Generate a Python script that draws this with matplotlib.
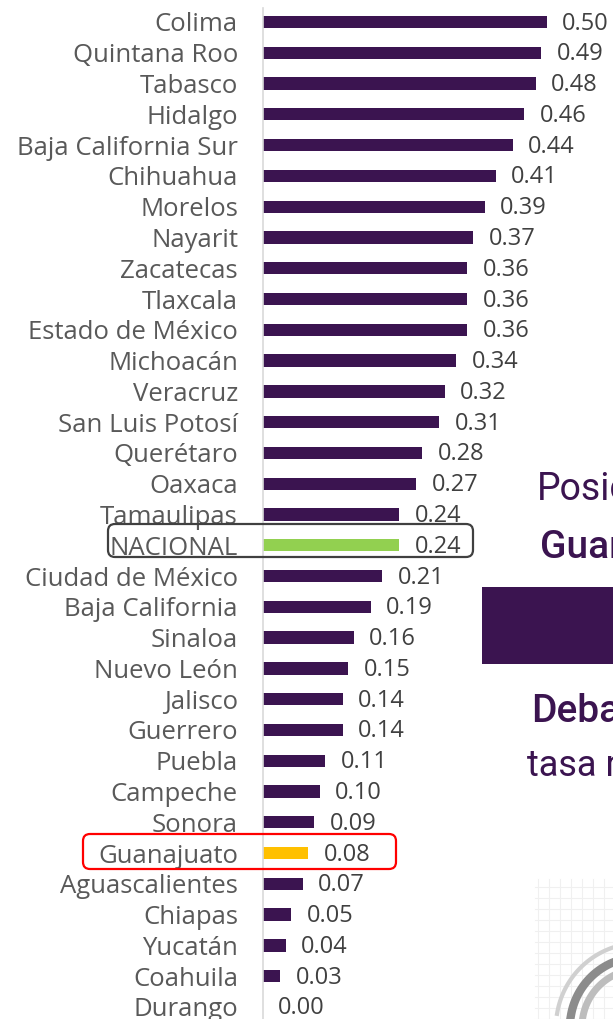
import numpy as np
import matplotlib.pyplot as plt
from matplotlib.patches import FancyBboxPatch, Rectangle

estados = ['Colima', 'Quintana Roo', 'Tabasco', 'Hidalgo', 'Baja California Sur',
           'Chihuahua', 'Morelos', 'Nayarit', 'Zacatecas', 'Tlaxcala',
           'Estado de México', 'Michoacán', 'Veracruz', 'San Luis Potosí',
           'Querétaro', 'Oaxaca', 'Tamaulipas', 'NACIONAL', 'Ciudad de México',
           'Baja California', 'Sinaloa', 'Nuevo León', 'Jalisco', 'Guerrero',
           'Puebla', 'Campeche', 'Sonora', 'Guanajuato', 'Aguascalientes',
           'Chiapas', 'Yucatán', 'Coahuila', 'Durango']
valores = [0.50, 0.49, 0.48, 0.46, 0.44, 0.41, 0.39, 0.37, 0.36, 0.36,
           0.36, 0.34, 0.32, 0.31, 0.28, 0.27, 0.24, 0.24, 0.21, 0.19,
           0.16, 0.15, 0.14, 0.14, 0.11, 0.10, 0.09, 0.08, 0.07, 0.05,
           0.04, 0.03, 0.00]

morado = '#3b1450'
colores = []
for e in estados:
    if e == 'NACIONAL':
        colores.append('#92d050')
    elif e == 'Guanajuato':
        colores.append('#ffc000')
    else:
        colores.append(morado)

W, H = 613, 1019
fig = plt.figure(figsize=(W/100, H/100), dpi=100)
fig.patch.set_facecolor('white')

# faint grid in the lower right corner
for gx in np.arange(538, 614, 11):
    fig.add_artist(plt.Line2D([gx/W, gx/W], [0, 140/H], color='#f0f0f0', lw=0.8))
for gy in np.arange(0, 140, 11):
    fig.add_artist(plt.Line2D([535/W, 1], [gy/H, gy/H], color='#f0f0f0', lw=0.8))
t = np.linspace(np.pi*0.55, np.pi*0.95, 40)
for r, c, lw in [(70, '#8c8c8c', 6), (58, '#bdbdbd', 5), (84, '#d0d0d0', 3)]:
    fig.add_artist(plt.Line2D((640 + r*np.cos(t)) / 100, (r*np.sin(t) - 8) / 100,
                              transform=fig.dpi_scale_trans, color=c, lw=lw))

ax = fig.add_axes([263/W, 0, 350/W, 1])
ax.set_facecolor('none')
y = np.arange(len(estados))
ax.barh(y, valores, height=0.4, color=colores)
for yi, v in zip(y, valores):
    ax.text(v + 0.027, yi + 0.05, f'{v:.2f}', va='center', ha='left',
            fontsize=17, color='#404040', family='Open Sans')

ax.set_xlim(0, 350/568)
ax.set_ylim((H - 22)/30.78, -22/30.78)
ax.set_yticks(y, estados, fontsize=18.5, color='#595959', family='Open Sans')
ax.tick_params(axis='y', length=0, pad=18)
ax.set_xticks([])
for s in ['top', 'right', 'bottom']:
    ax.spines[s].set_visible(False)
ax.spines['left'].set_color('#d9d9d9')
ax.spines['left'].set_linewidth(1.2)
ax.spines['left'].set_bounds(-0.45, (H - 22)/30.78)

# highlight boxes
fig.add_artist(FancyBboxPatch((1.08, (H - 557)/100), 3.65, 0.33,
                              boxstyle='round,pad=0,rounding_size=0.07',
                              transform=fig.dpi_scale_trans,
                              fc='none', ec='#404040', lw=1.6))
fig.add_artist(FancyBboxPatch((0.83, (H - 869)/100), 3.13, 0.35,
                              boxstyle='round,pad=0,rounding_size=0.07',
                              transform=fig.dpi_scale_trans,
                              fc='none', ec='#ff0000', lw=1.6))

# partial panel on the right
fig.add_artist(Rectangle((482/W, (H - 664)/H), (W - 482)/W, 77/H,
                         transform=fig.transFigure, fc=morado, ec='none'))
fig.text(537/W, (H - 490)/H, 'Posic', fontsize=27, color=morado,
         family='Roboto', va='center', ha='left')
fig.text(540/W, (H - 547)/H, 'Guar', fontsize=28, color=morado,
         family='Roboto', weight='medium', va='center', ha='left')
fig.text(531/W, (H - 712)/H, 'Deba', fontsize=28, color=morado,
         family='Roboto', weight='medium', va='center', ha='left')
fig.text(527/W, (H - 766)/H, 'tasa r', fontsize=26, color=morado,
         family='Roboto', va='center', ha='left')

fig.savefig('out.png', dpi=100)
